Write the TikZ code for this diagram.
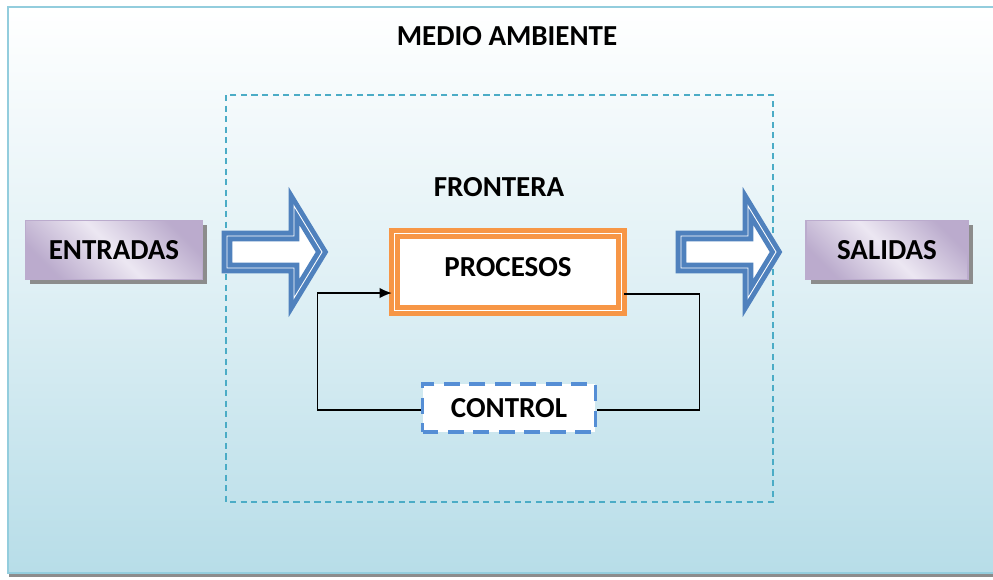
\documentclass[tikz,border=0pt]{standalone}
\usepackage{fontspec}
\setmainfont{Carlito}
\usetikzlibrary{shadows, arrows.meta}

\definecolor{envblue}{HTML}{B7DDE8}
\definecolor{envline}{HTML}{93CDDD}
\definecolor{bordercol}{HTML}{4BACC6}
\definecolor{arrowblue}{HTML}{4F81BD}
\definecolor{procorange}{HTML}{F79646}
\definecolor{ctrlblue}{HTML}{558ED5}
\definecolor{lilac}{HTML}{B3A2C7}
\definecolor{lilaclight}{HTML}{ECE7F2}

\tikzset{
	txt/.style={font=\bfseries\fontsize{16.5}{19}\selectfont, text=black},
	envbox/.style={draw=envline, line width=0.6pt, top color=white,
		bottom color=envblue, middle color=envblue!45,
		drop shadow={shadow xshift=0.5pt, shadow yshift=-2.5pt, fill=black!45, opacity=1}},
	frontier/.style={draw=bordercol, line width=0.7pt, dash pattern=on 3.5pt off 2.5pt},
	iobox/.style={txt, draw=lilac!90, line width=0.8pt, minimum height=1.18cm,
		left color=lilac!90, right color=lilac!90, middle color=lilaclight, shading angle=135,
		drop shadow={shadow xshift=2.8pt, shadow yshift=-2.8pt, fill=black!45, opacity=1}},
	blockarrow/.style={draw=arrowblue, fill=white, line width=2.8pt, double=white,
		double distance=0.5pt, line join=miter},
	procbox/.style={txt, draw=procorange, fill=white, line width=2.8pt, double=white,
		double distance=0.5pt, text depth=0.2cm},
	ctrlbox/.style={txt, draw=ctrlblue, fill=white, line width=2.2pt, dash pattern=on 9pt off 5.5pt},
	fbline/.style={draw=black, line width=0.8pt}
}

\begin{document}
\begin{tikzpicture}[x=0.02cm, y=-0.02cm]
	\useasboundingbox (0,0) rectangle (993,579);
	\clip (0,0) rectangle (993,579);

	% medio ambiente
	\draw[envbox] (8,7) rectangle (1010,573);
	\node[txt] (ambiente) at (507,36) {MEDIO AMBIENTE};

	% frontera
	\draw[frontier] (226,95) rectangle (773,502);
	\node[txt] (frontera) at (499,187) {FRONTERA};

	\node[iobox, minimum width=3.54cm] (entradas) at (114,250) {ENTRADAS};
	\node[iobox, minimum width=3.24cm] (salidas)  at (887,250) {SALIDAS};

	\coordinate (inarrow)  at (227,252);
	\coordinate (outarrow) at (681,252);
	\foreach \a in {inarrow, outarrow}
		\draw[blockarrow, shift={(\a)}] (0,-16) -- (67,-16) -- (67,-46)
			-- (95,0) -- (67,46) -- (67,16) -- (0,16) -- cycle;

	\node[procbox, minimum width=4.55cm, minimum height=1.55cm] (procesos) at (508,272)
		{PROCESOS};
	\node[ctrlbox, minimum width=3.46cm, minimum height=0.96cm] (control) at (509,408)
		{CONTROL};

	% lazo de control
	\draw[fbline] ([yshift=-0.44cm]procesos.east) -| ([xshift=2.04cm, yshift=-0.04cm]control.east)
		-- ([yshift=-0.04cm]control.east);
	\draw[fbline, ->, >={Latex[length=7pt, width=6pt]}] ([yshift=-0.04cm]control.west)
		-- ++(-2.06cm,0) |- ([yshift=-0.42cm]procesos.west);
\end{tikzpicture}
\end{document}
